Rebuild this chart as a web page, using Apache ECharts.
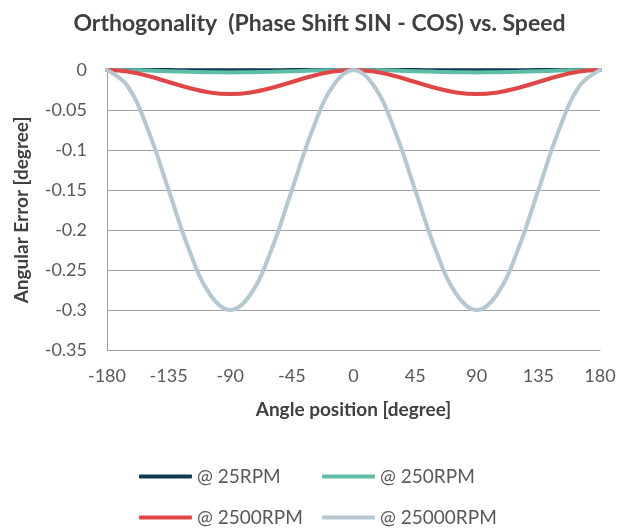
<!DOCTYPE html>
<html><head><meta charset="utf-8">
<script src="https://cdn.jsdelivr.net/npm/echarts@6/dist/echarts.min.js"></script>
<style>html,body{margin:0;padding:0;background:#fff}#c{width:639px;height:530px}</style>
</head><body><div id="c"></div>
<script>
const angles = [-180,-165,-150,-135,-120,-105,-90,-75,-60,-45,-30,-15,0,15,30,45,60,75,90,105,120,135,150,165,180];
const rpm25 = [0,-0.00002,-0.000075,-0.00015,-0.000225,-0.00028,-0.0003,-0.00028,-0.000225,-0.00015,-0.000075,-0.00002,0,-0.00002,-0.000075,-0.00015,-0.000225,-0.00028,-0.0003,-0.00028,-0.000225,-0.00015,-0.000075,-0.00002,0];
const rpm250 = [0,-0.0002,-0.00075,-0.0015,-0.00225,-0.0028,-0.003,-0.0028,-0.00225,-0.0015,-0.00075,-0.0002,0,-0.0002,-0.00075,-0.0015,-0.00225,-0.0028,-0.003,-0.0028,-0.00225,-0.0015,-0.00075,-0.0002,0];
const rpm2500 = [0,-0.002,-0.0075,-0.015,-0.0225,-0.028,-0.03,-0.028,-0.0225,-0.015,-0.0075,-0.002,0,-0.002,-0.0075,-0.015,-0.0225,-0.028,-0.03,-0.028,-0.0225,-0.015,-0.0075,-0.002,0];
const rpm25000 = [0,-0.02,-0.075,-0.15,-0.225,-0.28,-0.3,-0.28,-0.225,-0.15,-0.075,-0.02,0,-0.02,-0.075,-0.15,-0.225,-0.28,-0.3,-0.28,-0.225,-0.15,-0.075,-0.02,0];
const seriesNames = ['@ 25RPM','@ 250RPM','@ 2500RPM','@ 25000RPM'];
const seriesColors = ['#0f3a52','#5fbca6','#e04646','#b5c8d1'];
const seriesData = [rpm25, rpm250, rpm2500, rpm25000];
const font = 'Lato, "Open Sans", sans-serif';
const chart = echarts.init(document.getElementById('c'));
const legendPos = [[139,467],[322,467],[139,508],[322,508]];
chart.setOption({
  animation:false,
  title:{text:'Orthogonality  (Phase Shift SIN - COS) vs. Speed',left:'center',top:7,
    textStyle:{fontFamily:font,fontSize:23,fontWeight:'bold',color:'#404040'}},
  grid:{left:107,right:39,top:70,bottom:180},
  legend: seriesNames.map((n,i)=>({data:[n],left:legendPos[i][0],top:legendPos[i][1],itemWidth:53,itemHeight:4,itemGap:0,padding:0,
    icon:'roundRect',textStyle:{fontFamily:font,fontSize:19,color:'#595959'}})),
  xAxis:{type:'value',min:-180,max:180,interval:45,
    name:'Angle position [degree]',nameLocation:'middle',nameGap:50,
    nameTextStyle:{fontFamily:font,fontSize:19,fontWeight:'bold',color:'#404040'},
    axisLine:{onZero:false,lineStyle:{color:'#a0a0a0',width:1}},axisTick:{show:false},splitLine:{show:false},
    axisLabel:{fontFamily:font,fontSize:18,color:'#595959',margin:17}},
  yAxis:{type:'value',min:-0.35,max:0,interval:0.05,
    name:'Angular Error [degree]',nameLocation:'middle',nameGap:76,nameRotate:90,
    nameTextStyle:{fontFamily:font,fontSize:19,fontWeight:'bold',color:'#404040'},
    axisLine:{show:true,onZero:false,lineStyle:{color:'#a0a0a0',width:1}},axisTick:{show:false},
    splitLine:{lineStyle:{color:'#a0a0a0',width:1}},
    axisLabel:{fontFamily:font,fontSize:18,color:'#595959',margin:20,
      formatter:v=>String(Math.round(v*100)/100)}},
  series: seriesData.map((d,i)=>({name:seriesNames[i],type:'line',smooth:0.4,showSymbol:false,
    data:angles.map((a,j)=>[a,d[j]]),lineStyle:{color:seriesColors[i],width:4,cap:'round'},
    itemStyle:{color:seriesColors[i]}}))
});
</script></body></html>
